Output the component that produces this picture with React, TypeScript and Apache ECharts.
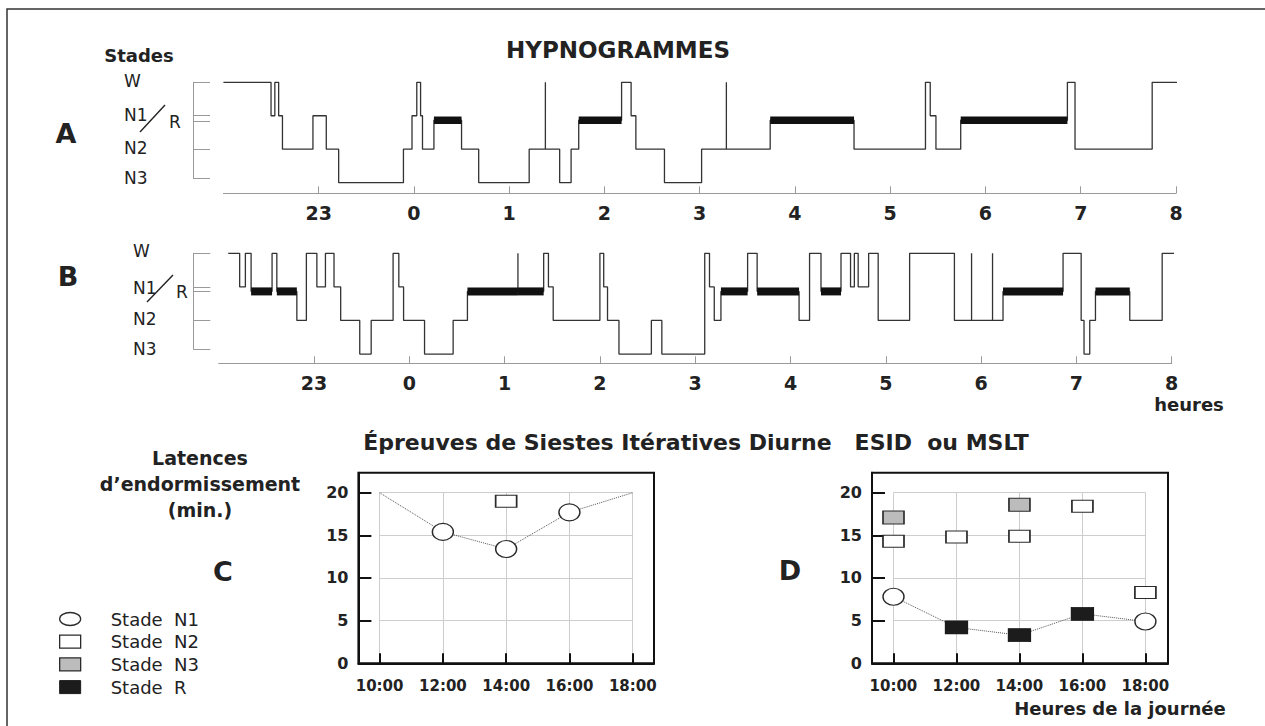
import React, { useEffect, useRef } from "react";
import * as echarts from "echarts";

const FONT = '"DejaVu Sans", "Open Sans", sans-serif';

// Stage levels on the hypnogram scale
const stageLevel: Record<string, number> = { W: 4, N1: 3, R: 2.865, N2: 2, N3: 1 };

// Hypnogram A: [start hour (22..32, i.e. 22h -> 8h), stage]
const hypnoA: [number, string][] = [
  [22.0, "W"], [22.5, "N1"], [22.54, "W"], [22.58, "N1"], [22.62, "N2"], [22.94, "N1"],
  [23.08, "N2"], [23.21, "N3"], [23.89, "N2"], [23.98, "N1"], [24.03, "W"], [24.07, "N1"],
  [24.09, "N2"], [24.21, "R"], [24.5, "N2"], [24.68, "N3"], [25.21, "N2"], [25.38, "W"],
  [25.38, "N2"], [25.53, "N3"], [25.65, "N2"], [25.73, "R"], [26.18, "W"], [26.28, "N1"],
  [26.33, "N2"], [26.63, "N3"], [27.02, "N2"], [27.28, "W"], [27.28, "N2"], [27.74, "R"],
  [28.62, "N2"], [29.37, "W"], [29.42, "N1"], [29.48, "N2"], [29.74, "R"], [30.86, "W"],
  [30.94, "N2"], [31.75, "W"],
];
const hypnoAEnd = 32.03;

// Hypnogram B
const hypnoB: [number, string][] = [
  [22.1, "W"], [22.22, "N1"], [22.28, "W"], [22.34, "R"], [22.56, "W"], [22.61, "R"],
  [22.82, "N2"], [22.92, "W"], [23.03, "N1"], [23.12, "W"], [23.21, "N1"], [23.28, "N2"],
  [23.48, "N3"], [23.6, "N2"], [23.83, "W"], [23.89, "N1"], [23.94, "N2"], [24.16, "N3"],
  [24.46, "N2"], [24.61, "R"], [25.14, "W"], [25.14, "R"], [25.41, "W"], [25.46, "N1"],
  [25.51, "N2"], [26.0, "W"], [26.04, "N1"], [26.08, "N2"], [26.2, "N3"], [26.54, "N2"],
  [26.65, "N3"], [27.1, "W"], [27.15, "N1"], [27.2, "N2"], [27.27, "R"], [27.55, "W"],
  [27.65, "R"], [28.09, "N2"], [28.2, "W"], [28.32, "R"], [28.53, "W"], [28.63, "N1"],
  [28.67, "W"], [28.71, "N1"], [28.82, "W"], [28.92, "N2"], [29.25, "W"], [29.72, "N2"],
  [29.9, "W"], [29.9, "N2"], [30.12, "W"], [30.12, "N2"], [30.23, "R"], [30.86, "W"],
  [31.05, "N2"], [31.08, "N3"], [31.14, "N2"], [31.2, "R"], [31.56, "N2"], [31.9, "W"],
];
const hypnoBEnd = 32.08;

const hourTicks = [23, 24, 25, 26, 27, 28, 29, 30, 31, 32];
const bracketTicksA = [4, 3, 2.85, 2, 1.13];
const bracketTicksB = [4, 3, 2.877, 2, 1.15];

// MSLT (latencies in minutes)
const msltHours = [10, 12, 14, 16, 18];
const latencyTicks = [0, 5, 10, 15, 20];
const cN1 = [null, 15.4, 13.4, 17.7, null];
const cN2 = [null, null, 19.0, null, null];
const cLatency = [20, 15.4, 13.4, 17.7, 20];
const dN1 = [7.8, null, null, null, 4.9];
const dN2 = [14.3, 14.8, 14.9, 18.4, 8.3];
const dN3 = [17.1, null, 18.6, null, null];
const dR = [null, 4.2, 3.3, 5.8, null];
const dLatency = [7.8, 4.2, 3.3, 5.8, 4.9];

const ELLIPSE = "path://M0,10A10,10 0 1,0 20,10A10,10 0 1,0 0,10Z";
const N1_STYLE = { color: "#ffffff", borderColor: "#2a2a2a", borderWidth: 1.3 };
const N2_STYLE = { color: "#ffffff", borderColor: "#2a2a2a", borderWidth: 1.3 };
const N3_STYLE = { color: "#bcbcbc", borderColor: "#2a2a2a", borderWidth: 1.3 };
const R_STYLE = { color: "#1c1c1c", borderColor: "#1c1c1c", borderWidth: 1 };

function stepLine(h: [number, string][], end: number) {
  const pts: number[][] = [];
  h.forEach(([t, s], i) => {
    const next = i + 1 < h.length ? h[i + 1][0] : end;
    pts.push([t, stageLevel[s]], [next, stageLevel[s]]);
  });
  return pts;
}

function remSegments(h: [number, string][], end: number) {
  const out: number[][] = [];
  h.forEach(([t, s], i) => {
    if (s !== "R") return;
    const next = i + 1 < h.length ? h[i + 1][0] : end;
    if (next > t) out.push([t, next]);
  });
  return out;
}

function pairs(vals: (number | null)[]) {
  return msltHours.map((h, i) => [h, vals[i]]).filter((d) => d[1] != null);
}

function hypnoX(gridIndex: number) {
  return {
    type: "value", gridIndex, min: 22, max: 32, offset: gridIndex === 0 ? 15 : 14.3,
    axisLine: { show: true, lineStyle: { color: "#9a9a9a", width: 1 } },
    axisTick: { show: true, inside: true, length: 7, customValues: hourTicks, lineStyle: { color: "#9a9a9a", width: 1 } },
    axisLabel: {
      show: true, customValues: hourTicks, margin: 10,
      formatter: (v: number) => String(v % 24),
      fontFamily: FONT, fontWeight: "bold", fontSize: 19, color: "#222",
    },
    splitLine: { show: false },
  };
}

function hypnoY(gridIndex: number, min: number, ticks: number[], offset: number) {
  return {
    type: "value", gridIndex, min, max: 4, offset,
    axisLine: { show: true, lineStyle: { color: "#9a9a9a", width: 1 } },
    axisTick: { show: true, inside: true, length: 17, customValues: ticks, lineStyle: { color: "#9a9a9a", width: 1 } },
    axisLabel: { show: false },
    splitLine: { show: false },
  };
}

function outerX(gridIndex: number, min: number, max: number) {
  return {
    type: "value", gridIndex, min, max,
    axisLine: { show: true, onZero: false, lineStyle: { color: "#111", width: 2 } },
    axisTick: { show: true, inside: true, length: 10, customValues: msltHours, lineStyle: { color: "#111", width: 2 } },
    axisLabel: {
      show: true, customValues: msltHours, margin: 15,
      formatter: (v: number) => `${v}:00`,
      fontFamily: FONT, fontWeight: "bold", fontSize: 15, color: "#222",
    },
    splitLine: { show: false },
  };
}

function outerY(gridIndex: number) {
  return {
    type: "value", gridIndex, min: 0, max: 22.34,
    axisLine: { show: true, onZero: false, lineStyle: { color: "#111", width: 2 } },
    axisTick: { show: true, inside: true, length: 13, customValues: latencyTicks, lineStyle: { color: "#111", width: 2 } },
    axisLabel: {
      show: true, customValues: latencyTicks, margin: 10,
      fontFamily: FONT, fontWeight: "bold", fontSize: 16, color: "#222",
    },
    splitLine: { show: false },
  };
}

function innerX(gridIndex: number) {
  return {
    type: "value", gridIndex, min: 10, max: 18, interval: 2,
    axisLine: { show: false }, axisTick: { show: false }, axisLabel: { show: false },
    splitLine: { show: true, lineStyle: { color: "#cdcdcd", width: 1 } },
  };
}

function innerY(gridIndex: number) {
  return {
    type: "value", gridIndex, min: 0, max: 20, interval: 5,
    axisLine: { show: false }, axisTick: { show: false }, axisLabel: { show: false },
    splitLine: { show: true, lineStyle: { color: "#cdcdcd", width: 1 } },
  };
}

function txt(text: string, x: number, y: number, size: number, bold = true, align = "center") {
  return {
    type: "text", silent: true,
    style: {
      text, x, y, fill: "#222", align, verticalAlign: "middle",
      font: `${bold ? "bold " : ""}${size}px ${FONT}`,
    },
  };
}

function slash(x1: number, y1: number, x2: number, y2: number) {
  return { type: "line", silent: true, shape: { x1, y1, x2, y2 }, style: { stroke: "#222", lineWidth: 1.4 } };
}

function remBars(axisIndex: number, segs: number[][], thickness: number) {
  return segs.map(([s, e]) => ({
    type: "line", name: axisIndex === 0 ? "A-R" : "B-R",
    xAxisIndex: axisIndex, yAxisIndex: axisIndex,
    data: [[s, stageLevel.R], [e, stageLevel.R]],
    symbol: "none", showSymbol: false, clip: false, silent: true, z: 5,
    lineStyle: { color: "#111111", width: thickness, cap: "butt", opacity: 1 },
  }));
}

export default function App() {
  const ref = useRef<HTMLDivElement>(null);

  useEffect(() => {
    if (!ref.current) return;
    const chart = echarts.init(ref.current, null, { renderer: "svg" });

    const scatter = (name: string, data: any[], xi: number, size: number[], symbol: string, style: any) => ({
      type: "scatter", name, data, xAxisIndex: xi, yAxisIndex: xi, symbol, symbolSize: size,
      symbolKeepAspect: false,
      itemStyle: { ...style, opacity: 1 }, clip: false, z: 4, silent: true,
    });

    const option: any = {
      animation: false,
      backgroundColor: "#ffffff",
      grid: [
        { left: 223.4, right: 89, top: 82.3, bottom: 547.7, outerBoundsMode: "none" },
        { left: 218.7, right: 93.3, top: 253.3, bottom: 377, outerBoundsMode: "none" },
        { left: 358.4, right: 611, top: 472.7, bottom: 62.7, show: true, borderColor: "#111", borderWidth: 2, outerBoundsMode: "none" },
        { left: 379.6, right: 632.3, top: 492.7, bottom: 62.7, outerBoundsMode: "none" },
        { left: 872, right: 97, top: 472.7, bottom: 62.7, show: true, borderColor: "#111", borderWidth: 2, outerBoundsMode: "none" },
        { left: 893.5, right: 119.6, top: 492.7, bottom: 62.7, outerBoundsMode: "none" },
      ],
      xAxis: [
        hypnoX(0), hypnoX(1),
        outerX(2, 9.33, 18.67), innerX(3),
        outerX(4, 9.32, 18.72), innerX(5),
      ],
      yAxis: [
        hypnoY(0, 1.13, bracketTicksA, 30.4),
        hypnoY(1, 1.15, bracketTicksB, 25.4),
        outerY(2), innerY(3), outerY(4), innerY(5),
      ],
      legend: {
        orient: "vertical", left: 54, top: 605, itemWidth: 21, itemHeight: 13, itemGap: 4.7,
        selectedMode: false, symbolKeepAspect: false,
        textStyle: { fontFamily: FONT, fontSize: 18, color: "#222", lineHeight: 18, padding: [0, 0, 0, 25] },
        data: [
          { name: "Stade  N1", icon: ELLIPSE, itemStyle: N1_STYLE },
          { name: "Stade  N2", icon: "rect", itemStyle: N2_STYLE },
          { name: "Stade  N3", icon: "rect", itemStyle: N3_STYLE },
          { name: "Stade  R", icon: "rect", itemStyle: R_STYLE },
        ],
      },
      series: [
        {
          type: "line", name: "A", xAxisIndex: 0, yAxisIndex: 0, data: stepLine(hypnoA, hypnoAEnd),
          symbol: "none", showSymbol: false, clip: false, silent: true,
          lineStyle: { color: "#333", width: 1.3 },
        },
        ...remBars(0, remSegments(hypnoA, hypnoAEnd), 7.5),
        {
          type: "line", name: "B", xAxisIndex: 1, yAxisIndex: 1, data: stepLine(hypnoB, hypnoBEnd),
          symbol: "none", showSymbol: false, clip: false, silent: true,
          lineStyle: { color: "#333", width: 1.3 },
        },
        ...remBars(1, remSegments(hypnoB, hypnoBEnd), 8),
        {
          type: "line", name: "latC", xAxisIndex: 3, yAxisIndex: 3, data: pairs(cLatency),
          symbol: "none", clip: false, silent: true,
          lineStyle: { color: "#555", width: 1, type: "dotted" },
        },
        scatter("Stade  N1", pairs(cN1), 3, [21, 17], ELLIPSE, N1_STYLE),
        scatter("Stade  N2", pairs(cN2), 3, [21, 12], "rect", N2_STYLE),
        {
          type: "line", name: "latD", xAxisIndex: 5, yAxisIndex: 5, data: pairs(dLatency),
          symbol: "none", clip: false, silent: true,
          lineStyle: { color: "#555", width: 1, type: "dotted" },
        },
        scatter("Stade  N1", pairs(dN1), 5, [21, 17], ELLIPSE, N1_STYLE),
        scatter("Stade  N2", pairs(dN2), 5, [21, 12], "rect", N2_STYLE),
        scatter("Stade  N3", pairs(dN3), 5, [21, 13], "rect", N3_STYLE),
        scatter("Stade  R", pairs(dR), 5, [22, 13], "rect", R_STYLE),
      ],
      graphic: [
        { type: "rect", silent: true, shape: { x: 7, y: 9, width: 1270, height: 730 }, style: { fill: "none", stroke: "#333", lineWidth: 1.5 } },
        txt("HYPNOGRAMMES", 618, 50, 23),
        txt("Stades", 139, 55, 18),
        txt("A", 66, 133.5, 27),
        txt("B", 68, 276, 27),
        txt("C", 223, 571.5, 27),
        txt("D", 790, 570, 27),
        txt("W", 124, 81, 17, false, "left"),
        txt("N1", 124, 115, 17, false, "left"),
        txt("R", 169, 122, 17, false, "left"),
        txt("N2", 124, 147.5, 17, false, "left"),
        txt("N3", 124, 177.5, 17, false, "left"),
        slash(140, 132, 165, 105),
        txt("W", 133, 251, 17, false, "left"),
        txt("N1", 133, 288, 17, false, "left"),
        txt("R", 176, 292, 17, false, "left"),
        txt("N2", 133, 319, 17, false, "left"),
        txt("N3", 133, 349, 17, false, "left"),
        slash(147, 302, 173, 275),
        txt("heures", 1189, 404, 18),
        txt("Épreuves de Siestes Itératives Diurne   ESID  ou MSLT", 696, 442, 22),
        txt("Latences", 200, 458, 19),
        txt("d’endormissement", 200, 484, 19),
        txt("(min.)", 200, 510, 19),
        txt("Heures de la journée", 1120, 708, 18),
      ],
    };

    chart.setOption(option);
    return () => chart.dispose();
  }, []);

  return (
    <div
      ref={ref}
      style={{ position: "absolute", left: 0, top: 0, width: 1265, height: 726, background: "#fff" }}
    />
  );
}
